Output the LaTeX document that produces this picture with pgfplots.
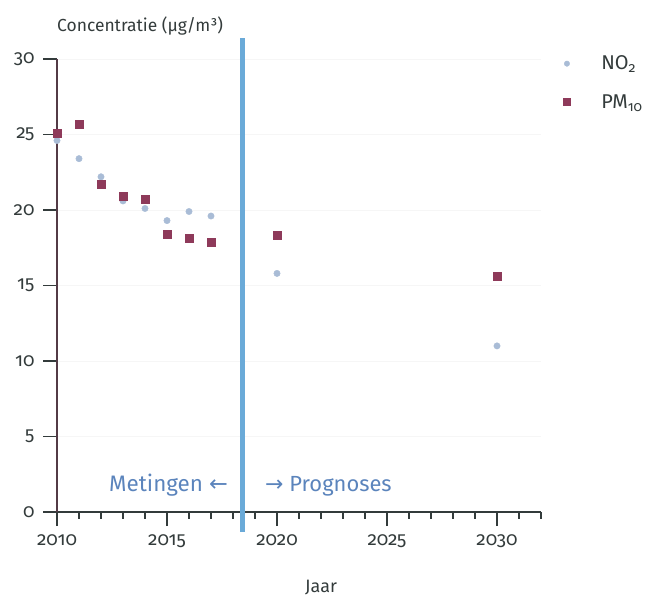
\documentclass[border=0pt]{standalone}
\usepackage{fontspec}
\setmainfont{Fira Sans}[Numbers=OldStyle]
\newfontfamily\arrowfont{DejaVu Sans}
\usepackage{pgfplots}
\pgfplotsset{compat=1.18}

\definecolor{no2col}{HTML}{A9BCD6}
\definecolor{pmcol}{HTML}{8E3A5A}
\definecolor{splitcol}{HTML}{6AAAD8}
\definecolor{notecol}{HTML}{5B84BC}
\definecolor{inkcol}{HTML}{333B3B}
\newcommand\tfont{\fontsize{19}{21}\selectfont}

\begin{document}
\begin{tikzpicture}
\useasboundingbox (0bp,0bp) rectangle (647bp,597bp);
\begin{axis}[
  at={(57bp,85bp)}, anchor=south west,
  scale only axis, width=484bp, height=453bp,
  xmin=2010, xmax=2032, ymin=0, ymax=30,
  clip=false,
  axis x line*=bottom, axis y line*=left,
  axis line style={-, inkcol, line width=1.1bp},
  y axis line style={color=pmcol!35!inkcol},
  tick align=outside,
  major tick length=14bp, minor tick length=7bp,
  tick style={inkcol, line width=1.1bp},
  xtick={2010,2015,2020,2025,2030},
  xticklabels={{\tfont 2010},{\tfont 2015},{\tfont 2020},{\tfont 2025},{\tfont 2030}},
  minor xtick={2010,...,2032},
  ytick={0,5,...,30},
  yticklabels={{\tfont 0},{\tfont 5},{\tfont 10},{\tfont 15},{\tfont 20},{\tfont 25},{\tfont 30}},
  ymajorgrids, grid style={gray!7},
  tick label style={text=inkcol},
  xticklabel style={yshift=-5bp},
  yticklabel style={xshift=-5bp},
  legend style={at={(axis description cs:1.04,1.016)}, anchor=north west,
    draw=none, fill=none, font=\fontsize{20}{22}\selectfont, text=inkcol,
    row sep=19bp, legend cell align=left},
  legend image post style={scale=0.85},
]
\addplot[only marks, mark=*, mark size=3.2bp, mark options={draw=no2col, fill=no2col}]
coordinates {
(2010,24.6) (2011,23.4) (2012,22.2) (2013,20.6) (2014,20.1) (2015,19.3)
(2016,19.9) (2017,19.6) (2020,15.8) (2030,11.0)
};
\addlegendentry{\hspace*{29bp}NO\textsubscript{2}}
\addplot[only marks, mark=square*, mark size=4bp, mark options={draw=pmcol, fill=pmcol}]
coordinates {
(2010,25.1) (2011,25.7) (2012,21.7) (2013,20.9) (2014,20.7) (2015,18.4)
(2016,18.1) (2017,17.9) (2020,18.3) (2030,15.6)
};
\addlegendentry{\hspace*{29bp}PM\textsubscript{10}}
\addplot[splitcol, line width=5bp, no marks, forget plot]
coordinates {(2018.45,-1.3) (2018.45,31.4)};
\end{axis}
\node[anchor=base west, text=inkcol, inner sep=0pt, font=\fontsize{17.5}{20}\selectfont]
  at (57bp,565bp) {Concentratie (μg/m³)};
\node[anchor=base, text=inkcol, inner sep=0pt, font=\fontsize{18}{20}\selectfont]
  at (321bp,5bp) {Jaar};
\node[anchor=base east, text=notecol, inner sep=0pt, font=\fontsize{22.5}{24}\selectfont]
  at (228bp,105bp) {Metingen {\arrowfont ←}};
\node[anchor=base west, text=notecol, inner sep=0pt, font=\fontsize{22}{24}\selectfont]
  at (265bp,105bp) {{\arrowfont →} Prognoses};
\end{tikzpicture}
\end{document}
